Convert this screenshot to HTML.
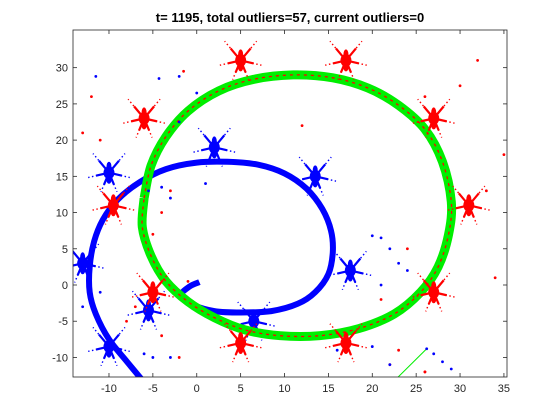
<!DOCTYPE html>
<html><head><meta charset="utf-8"><style>
html,body{margin:0;padding:0;background:#fff;}
svg{display:block;font-family:"Liberation Sans",sans-serif;}
</style></head><body>
<svg id="chart" width="560" height="420" viewBox="0 0 560 420" xmlns="http://www.w3.org/2000/svg">
<rect x="0" y="0" width="560" height="420" fill="#fff"/>
<text x="290" y="22" text-anchor="middle" font-size="13" font-weight="bold" fill="#000">t= 1195, total outliers=57, current outliers=0</text>
<g id="plot"></g>
<rect x="73" y="30" width="434" height="347" fill="none" stroke="#262626" stroke-width="0.8"/>
<g id="axes"></g>
</svg>
<script>
// ---- data ----
const xTicks = [-10, -5, 0, 5, 10, 15, 20, 25, 30, 35];
const yTicks = [-10, -5, 0, 5, 10, 15, 20, 25, 30];
const greenTrackX = [-6,-5.2,-3.5,-1,2.5,6.5,11,15.5,19.5,23,26,28,29,28.7,27.5,25.5,22.5,18.5,14,9.5,5.5,2,-1,-3.5,-5.2,-6.2,-6];
const greenTrackY = [12,16.5,20.5,24,26.8,28.4,29,28.6,27.2,24.8,21.5,17,11.5,7,2.5,-1,-4,-6,-7,-7,-6.2,-4.5,-2.3,0.5,4,8,12];
const blueTrackX = [-6.3,-8,-10,-11.5,-12.2,-12.2,-11.7,-10.7,-9,-6.5,-3.5,0,3.5,7,10,12.5,14.3,15.3,15.5,15,13.5,11.5,8.5,5,2,-0.3,-1.8,-0.8,0.3];
const blueTrackY = [-13,-10.5,-7.5,-4,-1,2.5,6,9,11.8,14.2,16,16.9,17,16.6,15.4,13.3,10.5,7.5,4.5,1.5,-1,-2.6,-3.6,-3.8,-3.6,-2.8,-1.5,-0.2,0.4];
const redClusterX = [5,17,-6,27,-9.5,31,-5,27,5,17];
const redClusterY = [31,31,23,23,11,11,-1,-1,-8,-8];
const blueClusterX = [2,13.5,-10,17.5,-5.5,6.5,-10,-13];
const blueClusterY = [19,15,15.5,2,-3.5,-5,-8.5,3];
const redDotX = [32,-12,-13,-11,-1.5,12,26,33,35,30,-4,-3,24,21,22,-5,-1,26,34,-8,-4,-7,-2,23,26];
const redDotY = [31,26,21,20,29.5,22,26,13,18,27.5,10,13,5,-2,-11,7,0.5,-12,1,-5,-7,-3,-10,-9,-12];
const blueDotX = [-11.5,-4.3,-2,0,-2,-4,-3,-5.5,15.5,20,21,22,23,21,24,-13,-11,-6,-5,-3,22,20,16,1];
const blueDotY = [28.8,28.5,28.8,26.5,22.5,13.5,12,13,5,6.8,6.5,5,3,0,2,-3,-1,-9.5,-10,-10,-11,-8.5,-9,14];
const lineX = [22.7, 26.2];
const lineY = [-13, -8.8];
const tailX = [26.2, 27, 28, 29];
const tailY = [-8.8, -9.5, -10.6, -11.6];

// ---- axis functions ----
const L=73,R=507,T=30,B=377;
const xMin=-14.1,xMax=35.35,yMin=-12.7,yMax=35.2;
const sx=v=>L+(v-xMin)/(xMax-xMin)*(R-L);
const sy=v=>B-(v-yMin)/(yMax-yMin)*(B-T);
const NS="http://www.w3.org/2000/svg";
const plot=document.getElementById('plot');
const axes=document.getElementById('axes');
function mk(tag,attrs,parent){const e=document.createElementNS(NS,tag);for(const k in attrs)e.setAttribute(k,attrs[k]);parent.appendChild(e);return e;}
const clip=mk('clipPath',{id:'pc'},plot);mk('rect',{x:L,y:T,width:R-L,height:B-T},clip);
const g=mk('g',{'clip-path':'url(#pc)'},plot);

function smooth(xs,ys){
  const p=xs.map((x,i)=>[sx(x),sy(ys[i])]);
  let d='M'+p[0][0].toFixed(1)+','+p[0][1].toFixed(1);
  for(let i=0;i<p.length-1;i++){
    const p0=p[Math.max(0,i-1)],p1=p[i],p2=p[i+1],p3=p[Math.min(p.length-1,i+2)];
    const c1=[p1[0]+(p2[0]-p0[0])/6,p1[1]+(p2[1]-p0[1])/6];
    const c2=[p2[0]-(p3[0]-p1[0])/6,p2[1]-(p3[1]-p1[1])/6];
    d+=' C'+c1.map(v=>v.toFixed(1))+' '+c2.map(v=>v.toFixed(1))+' '+p2.map(v=>v.toFixed(1));
  }
  return d;
}

// blue track
const bt=mk('path',{d:smooth(blueTrackX,blueTrackY),fill:'none',stroke:'#0000ff','stroke-width':6,'stroke-linejoin':'round'},g);



// clusters
const spikeDirs=[[-1,-1.2],[1,-1.2],[-1.3,0.3],[1.3,0.3],[-0.5,1.2],[0.5,1.2]];
function cluster(cx,cy,color,name){
  const cg=mk('g',{},g);
  
  
  const X=sx(cx),Y=sy(cy);
  mk('ellipse',{cx:X,cy:Y,rx:5.5,ry:6.5,fill:color},cg);
  mk('ellipse',{cx:X,cy:Y+5,rx:3,ry:6,fill:color},cg);
  mk('ellipse',{cx:X,cy:Y-6,rx:2.5,ry:5,fill:color},cg);
  spikeDirs.forEach(s=>{
    mk('line',{x1:X,y1:Y,x2:X+s[0]*10,y2:Y+s[1]*10,stroke:color,'stroke-width':2.2},cg);
    mk('line',{x1:X,y1:Y,x2:X+s[0]*16,y2:Y+s[1]*16,stroke:color,'stroke-width':1.4,'stroke-dasharray':'1.5 2.5'},cg);
  });
}
blueClusterX.forEach((x,i)=>cluster(x,blueClusterY[i],'#0000ff','blue-cluster-'+i));

// green track
const gt=mk('path',{d:smooth(greenTrackX,greenTrackY),fill:'none',stroke:'#00ee00','stroke-width':9},g);


const rt=mk('path',{d:smooth(greenTrackX,greenTrackY),fill:'none',stroke:'#ff0000','stroke-width':1.3,'stroke-dasharray':'3 4'},g);



redClusterX.forEach((x,i)=>cluster(x,redClusterY[i],'#ff0000','red-cluster-'+i));

redDotX.forEach((x,i)=>{const c=mk('circle',{cx:sx(x),cy:sy(redDotY[i]),r:1.4,fill:'#ff0000'},g);

});
blueDotX.forEach((x,i)=>{const c=mk('circle',{cx:sx(x),cy:sy(blueDotY[i]),r:1.4,fill:'#0000ff'},g);

});

const gl=mk('polyline',{points:lineX.map((x,i)=>sx(x)+','+sy(lineY[i])).join(' '),fill:'none',stroke:'#00ee00','stroke-width':1},g);


tailX.forEach((x,i)=>{const c=mk('circle',{cx:sx(x),cy:sy(tailY[i]),r:1.4,fill:'#0000ff'},g);

});

// ticks
xTicks.forEach(v=>{const X=sx(v);
  mk('line',{x1:X,y1:B,x2:X,y2:B-4,stroke:'#262626','stroke-width':0.8},axes);
  mk('line',{x1:X,y1:T,x2:X,y2:T+4,stroke:'#262626','stroke-width':0.8},axes);
  const t=mk('text',{x:X,y:B+15,'text-anchor':'middle','font-size':11,fill:'#262626'},axes);
  t.textContent=v;
  
  });
yTicks.forEach(v=>{const Y=sy(v);
  mk('line',{x1:L,y1:Y,x2:L+4,y2:Y,stroke:'#262626','stroke-width':0.8},axes);
  mk('line',{x1:R,y1:Y,x2:R-4,y2:Y,stroke:'#262626','stroke-width':0.8},axes);
  const t=mk('text',{x:L-5,y:Y+4,'text-anchor':'end','font-size':11,fill:'#262626'},axes);
  t.textContent=v;
  
  });
</script>
</body></html>
